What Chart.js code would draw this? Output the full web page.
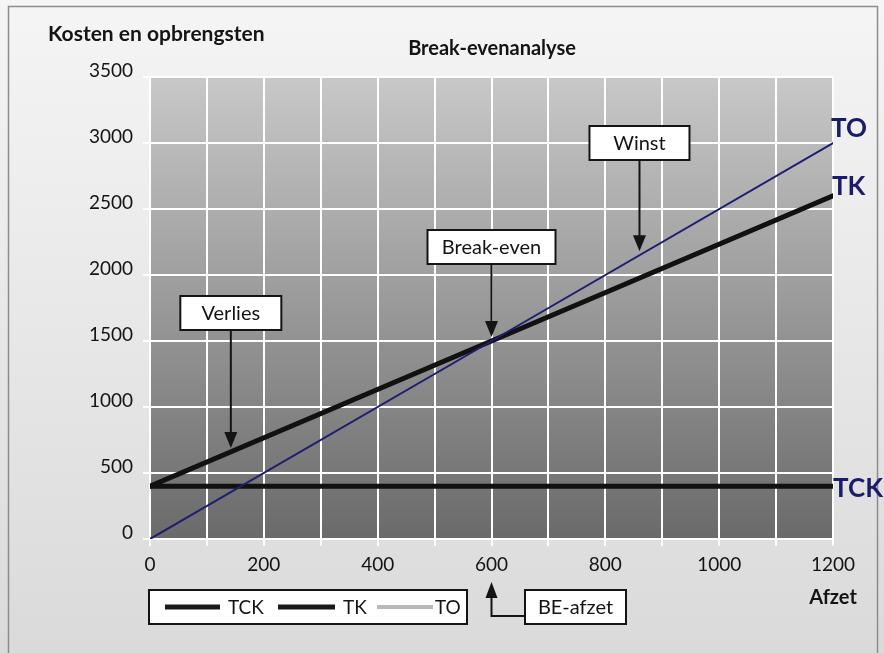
<!DOCTYPE html>
<html>
<head>
<meta charset="utf-8">
<script src="https://cdn.jsdelivr.net/npm/chart.js@4/dist/chart.umd.min.js"></script>
<style>
  html, body { margin: 0; padding: 0; background: #efefef; }
  canvas { display: block; }
</style>
</head>
<body>
<canvas id="c" width="884" height="653"></canvas>
<script>
// afzet (x) en de drie lijnen
const afzet = [0, 600, 1200];
const tck = [400, 400, 400];
const tk = [400, 1500, 2600];
const to = [0, 1500, 3000];
const seriesNames = ['TCK', 'TK', 'TO'];

// tekstballonnen: label, afzet waar de pijl heen wijst, waarde op de lijn
const calloutLabels = ['Verlies', 'Break-even', 'Winst'];
const calloutAfzet = [142, 600, 860];
const calloutValue = [660, 1500, 2150];

const beAfzet = 600;

const FONT = 'Lato, "Open Sans", sans-serif';
const NAVY = '#1b1b6b';
const INK = '#141414';

const pts = (ys) => afzet.map((x, i) => ({ x, y: ys[i] }));

function arrowHead(ctx, x, y, dir, w = 13, h = 16) {
  // dir: 1 = naar beneden, -1 = naar boven
  ctx.beginPath();
  ctx.moveTo(x, y);
  ctx.lineTo(x - w / 2, y - dir * h);
  ctx.lineTo(x + w / 2, y - dir * h);
  ctx.closePath();
  ctx.fill();
}

function textBox(ctx, text, cx, top, w, h) {
  ctx.fillStyle = '#fff';
  ctx.fillRect(cx - w / 2, top, w, h);
  ctx.strokeStyle = INK;
  ctx.lineWidth = 2;
  ctx.strokeRect(cx - w / 2, top, w, h);
  ctx.fillStyle = INK;
  ctx.font = '20px ' + FONT;
  ctx.textAlign = 'center';
  ctx.textBaseline = 'middle';
  ctx.fillText(text, cx, top + h / 2 + 1);
}

const decor = {
  id: 'decor',
  beforeDraw(chart) {
    const { ctx, chartArea: a, width, height } = chart;
    ctx.save();
    const bg = ctx.createLinearGradient(0, 0, 0, height);
    bg.addColorStop(0, '#f5f5f5');
    bg.addColorStop(1, '#dadada');
    ctx.fillStyle = bg;
    ctx.fillRect(0, 0, width, height);
    ctx.strokeStyle = '#8c8c8c';
    ctx.lineWidth = 1.5;
    ctx.strokeRect(8.5, 6.5, 869, 680);

    const g = ctx.createLinearGradient(0, a.top, 0, a.bottom);
    g.addColorStop(0, '#c8c8c8');
    g.addColorStop(1, '#6a6a6a');
    ctx.fillStyle = g;
    ctx.fillRect(a.left, a.top, a.right - a.left, a.bottom - a.top);

    ctx.fillStyle = INK;
    ctx.font = 'bold 21px ' + FONT;
    ctx.textBaseline = 'middle';
    ctx.textAlign = 'left';
    ctx.fillText('Kosten en opbrengsten', 48, 34);
    ctx.font = 'bold 20px ' + FONT;
    ctx.textAlign = 'center';
    ctx.fillText('Break-evenanalyse', 492, 49);
    ctx.restore();
  },
  afterDraw(chart) {
    const { ctx, chartArea: a, scales: { x, y } } = chart;
    ctx.save();

    // tekstballonnen met pijlen
    const boxes = [{ top: 296, w: 101 }, { top: 230, w: 128 }, { top: 126, w: 100 }];
    calloutLabels.forEach((label, i) => {
      const cx = x.getPixelForValue(calloutAfzet[i]);
      const tip = y.getPixelForValue(calloutValue[i]) - 4;
      const b = boxes[i];
      ctx.strokeStyle = INK;
      ctx.fillStyle = INK;
      ctx.lineWidth = 2;
      ctx.beginPath();
      ctx.moveTo(cx, b.top + 34);
      ctx.lineTo(cx, tip - 10);
      ctx.stroke();
      arrowHead(ctx, cx, tip, 1);
      textBox(ctx, label, cx, b.top, b.w, 34);
    });

    // lijnnamen rechts
    ctx.fillStyle = NAVY;
    ctx.font = 'bold 26px ' + FONT;
    ctx.textAlign = 'left';
    ctx.textBaseline = 'middle';
    ctx.fillText('TO', a.right - 2, y.getPixelForValue(to[2]) - 14);
    ctx.fillText('TK', a.right - 1, y.getPixelForValue(tk[2]) - 9);
    ctx.fillText('TCK', a.right, y.getPixelForValue(tck[2]) + 2);

    // as-titel x
    ctx.fillStyle = INK;
    ctx.font = 'bold 20px ' + FONT;
    ctx.textAlign = 'center';
    ctx.fillText('Afzet', a.right, 598);

    // legenda
    const lx = a.left - 1, ly = 590;
    ctx.fillStyle = '#fff';
    ctx.fillRect(lx, ly, 318, 34);
    ctx.strokeStyle = INK;
    ctx.lineWidth = 2;
    ctx.strokeRect(lx, ly, 318, 34);
    const items = [
      { x0: 16, x1: 71, tx: 79, color: '#1a1a1a', lw: 5 },
      { x0: 129, x1: 186, tx: 194, color: '#1a1a1a', lw: 5 },
      { x0: 228, x1: 284, tx: 286, color: '#b9b9b9', lw: 4 }
    ];
    items.forEach((it, i) => {
      ctx.strokeStyle = it.color;
      ctx.lineWidth = it.lw;
      ctx.beginPath();
      ctx.moveTo(lx + it.x0, ly + 17);
      ctx.lineTo(lx + it.x1, ly + 17);
      ctx.stroke();
      ctx.fillStyle = INK;
      ctx.font = '19px ' + FONT;
      ctx.textAlign = 'left';
      ctx.textBaseline = 'middle';
      ctx.fillText(seriesNames[i], lx + it.tx, ly + 18);
    });

    // BE-afzet
    const bx = x.getPixelForValue(beAfzet);
    ctx.strokeStyle = INK;
    ctx.fillStyle = INK;
    ctx.lineWidth = 2;
    ctx.beginPath();
    ctx.moveTo(525, 616);
    ctx.lineTo(bx, 616);
    ctx.lineTo(bx, 594);
    ctx.stroke();
    arrowHead(ctx, bx, 582, -1, 12, 16);
    textBox(ctx, 'BE-afzet', 575.5, 590, 101, 34);

    ctx.restore();
  }
};

new Chart(document.getElementById('c'), {
  type: 'scatter',
  data: {
    datasets: [
      { label: 'TCK', data: pts(tck), borderColor: '#111', borderWidth: 5, order: 2 },
      { label: 'TK', data: pts(tk), borderColor: '#111', borderWidth: 5, order: 1 },
      { label: 'TO', data: pts(to), borderColor: '#1e1e70', borderWidth: 2, order: 0 }
    ].map(d => ({ ...d, showLine: true, pointRadius: 0, borderCapStyle: 'round', fill: false }))
  },
  options: {
    responsive: false,
    animation: false,
    layout: { padding: { top: 77, right: 51, left: 0, bottom: 0 } },
    plugins: { legend: { display: false }, tooltip: { enabled: false } },
    scales: {
      x: {
        type: 'linear', min: 0, max: 1200,
        afterFit: (s) => { s.height = 114; },
        border: { display: false },
        grid: { color: '#fff', lineWidth: 2, tickLength: 7, tickColor: '#fff' },
        ticks: {
          stepSize: 100, autoSkip: false, maxRotation: 0, padding: 7,
          color: INK, font: { family: FONT, size: 19 },
          callback: (v) => (v % 200 === 0 ? String(v) : '')
        }
      },
      y: {
        type: 'linear', min: 0, max: 3500,
        afterFit: (s) => { s.width = 150; },
        border: { display: false },
        grid: { color: '#fff', lineWidth: 2, tickLength: 7, tickColor: '#fff' },
        ticks: {
          stepSize: 500, padding: 10, labelOffset: -6,
          color: INK, font: { family: FONT, size: 19 },
          callback: (v) => String(v)
        }
      }
    }
  },
  plugins: [decor]
});
</script>
</body>
</html>
